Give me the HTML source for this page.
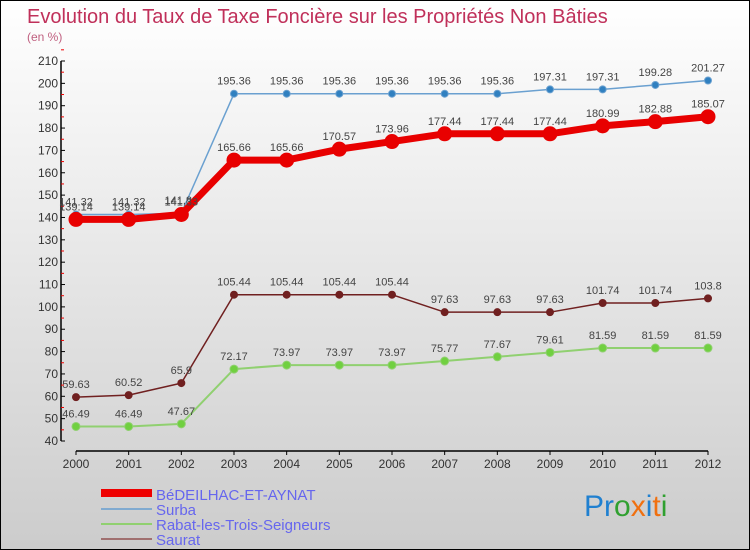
<!DOCTYPE html>
<html><head><meta charset="utf-8"><style>
body{margin:0}
#wrap{width:748px;height:548px;border:1px solid #000;background:linear-gradient(#fff,#ccc);position:relative;font-family:"Liberation Sans",sans-serif;overflow:hidden}
svg text{font-family:"Liberation Sans",sans-serif}
</style></head><body>
<div id="wrap">
<svg id="chart" width="748" height="548">
<text x="26" y="22" font-size="20" fill="#c0305a">Evolution du Taux de Taxe Foncière sur les Propriétés Non Bâties</text>
<text x="26" y="40" font-size="12" fill="#c06080">(en %)</text>
<g id="axes"></g><g id="series"></g>
<g>
<rect x="100" y="488" width="51" height="8" fill="#e00"/>
<text x="155" y="499" font-size="15" fill="#6666ee">BéDEILHAC-ET-AYNAT</text>
<line x1="100" y1="508" x2="151" y2="508" stroke="#80aad0" stroke-width="2"/>
<text x="155" y="514" font-size="15" fill="#6666ee">Surba</text>
<line x1="100" y1="523" x2="151" y2="523" stroke="#90d070" stroke-width="2"/>
<text x="155" y="529" font-size="15" fill="#6666ee">Rabat-les-Trois-Seigneurs</text>
<line x1="100" y1="538" x2="151" y2="538" stroke="#a07070" stroke-width="2"/>
<text x="155" y="544" font-size="15" fill="#6666ee">Saurat</text>
</g>
<text x="583" y="515" font-size="30"><tspan fill="#2080d0">Pr</tspan><tspan fill="#30a030">o</tspan><tspan fill="#f07010">x</tspan><tspan fill="#2080d0">i</tspan><tspan fill="#f07010">t</tspan><tspan fill="#30a030">i</tspan></text>
</svg></div>
<script>
const years=[2000,2001,2002,2003,2004,2005,2006,2007,2008,2009,2010,2011,2012];
const bedeilhac=[139.14,139.14,141.33,165.66,165.66,170.57,173.96,177.44,177.44,177.44,180.99,182.88,185.07];
const surba=[141.32,141.32,141.89,195.36,195.36,195.36,195.36,195.36,195.36,197.31,197.31,199.28,201.27];
const rabat=[46.49,46.49,47.67,72.17,73.97,73.97,73.97,75.77,77.67,79.61,81.59,81.59,81.59];
const saurat=[59.63,60.52,65.9,105.44,105.44,105.44,105.44,97.63,97.63,97.63,101.74,101.74,103.8];
const yTicks=[40,50,60,70,80,90,100,110,120,130,140,150,160,170,180,190,200,210];
const NS="http://www.w3.org/2000/svg";
const X=i=>75+i*(707-75)/(years.length-1);
const Y=v=>440-(v-40)*(380/170);
function mk(tag,attrs,parent){const e=document.createElementNS(NS,tag);for(const k in attrs)e.setAttribute(k,attrs[k]);parent.appendChild(e);return e;}
const ax=document.getElementById('axes');
let a=mk('line',{x1:60,y1:60,x2:60,y2:440,stroke:'#000','stroke-width':1.5},ax);


a=mk('line',{x1:75,y1:450,x2:707,y2:450,stroke:'#000','stroke-width':1.5},ax);


yTicks.forEach(v=>{
  mk('line',{x1:60,y1:Y(v),x2:64,y2:Y(v),stroke:'#000'},ax);
  mk('line',{x1:60,y1:Y(v+5),x2:63,y2:Y(v+5),stroke:'#e00'},ax);
  const t=mk('text',{x:57,y:Y(v)+4,'font-size':12,'text-anchor':'end',fill:'#333'},ax);t.textContent=v;
  
  
});
years.forEach((y,i)=>{
  mk('line',{x1:X(i),y1:450,x2:X(i),y2:454,stroke:'#000'},ax);
  const t=mk('text',{x:X(i),y:467,'font-size':12,'text-anchor':'middle',fill:'#333'},ax);t.textContent=y;
  
  
});
const sg=document.getElementById('series');
function draw(vals,name,color,dot,w,r){
  const g=mk('g',{},sg);
  
  
  mk('polyline',{points:vals.map((v,i)=>X(i)+','+Y(v)).join(' '),fill:'none',stroke:color,'stroke-width':w,'stroke-linejoin':'round'},g);
  vals.forEach((v,i)=>{
    const c=mk('circle',{cx:X(i),cy:Y(v),r:r,fill:dot,stroke:color,'stroke-width':1},g);
    
    
    const t=mk('text',{x:X(i),y:Y(v)-9,'font-size':11,'text-anchor':'middle',fill:'#444'},g);t.textContent=v;
    
    
  });
}
draw(rabat,'rabat','#90d070','#70d040',2,4);
draw(saurat,'saurat','#702020','#702020',1.5,3.5);
draw(surba,'surba','#6aa0d0','#3080c0',1.5,3.5);
draw(bedeilhac,'bedeilhac','#e80000','#e80000',7,7);
</script>
</body></html>
